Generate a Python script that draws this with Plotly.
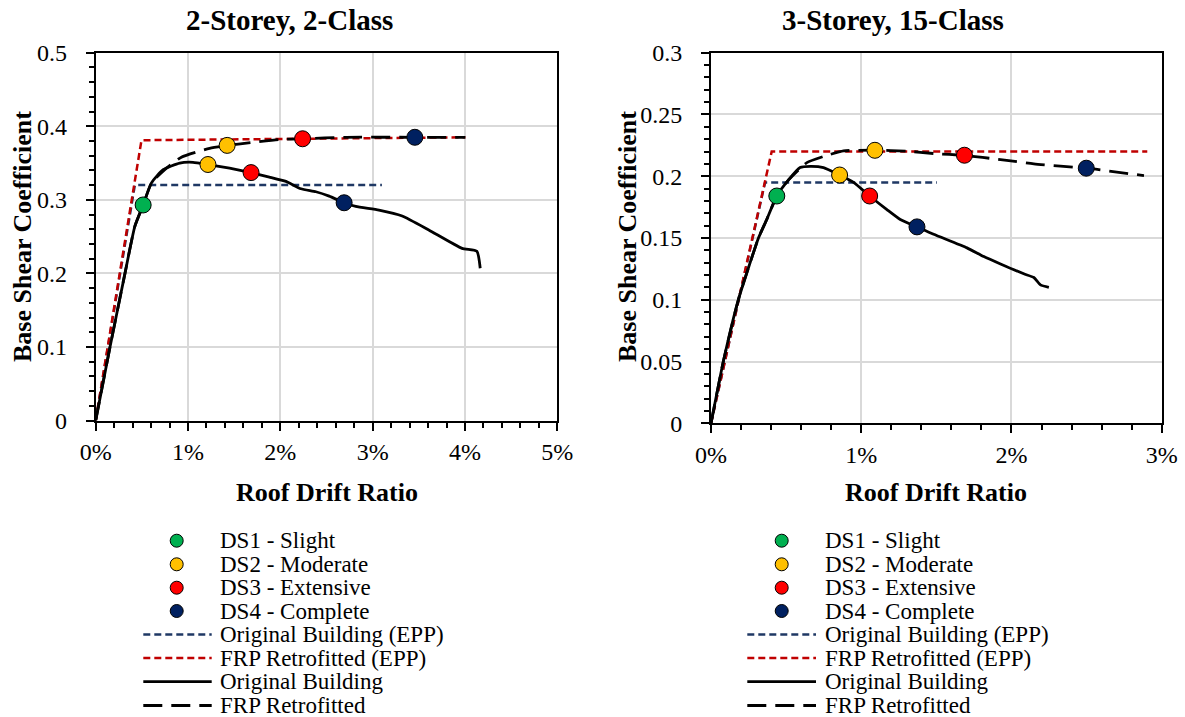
import plotly.graph_objects as go

W, H = 1185, 717
FONT = "Liberation Serif"

# ---------------- data: 2-Storey, 2-Class ----------------
L_orig_x = [0, 0.155, 0.317, 0.424, 0.514, 0.604, 0.730, 0.910, 1.054, 1.216, 1.450, 1.683, 1.881,
            2.061, 2.223, 2.385, 2.529, 2.691, 2.817, 3.068, 3.320, 3.608, 3.968, 4.129, 4.165]
L_orig_y = [0, 0.100, 0.200, 0.264, 0.293, 0.323, 0.341, 0.350, 0.351, 0.348, 0.343, 0.337, 0.331,
            0.325, 0.315, 0.311, 0.305, 0.296, 0.291, 0.286, 0.278, 0.259, 0.234, 0.230, 0.207]
L_frp_x = [0, 0.155, 0.317, 0.424, 0.514, 0.604, 0.748, 0.928, 1.234, 1.432, 1.701, 1.989, 2.241,
           2.709, 3.457, 4.004]
L_frp_y = [0, 0.100, 0.200, 0.264, 0.293, 0.323, 0.341, 0.358, 0.370, 0.374, 0.378, 0.382, 0.383,
           0.385, 0.385, 0.385]
L_epp_orig_x = [0, 0.424, 3.10]
L_epp_orig_y = [0, 0.320, 0.320]
L_epp_frp_x = [0, 0.496, 4.004]
L_epp_frp_y = [0, 0.381, 0.385]
L_ds_orig_x = [0.514, 1.216, 1.683, 2.691]
L_ds_orig_y = [0.293, 0.348, 0.337, 0.296]
L_ds_frp_x = [1.424, 2.241, 3.457]
L_ds_frp_y = [0.374, 0.383, 0.385]

# ---------------- data: 3-Storey, 15-Class ----------------
R_orig_x = [0, 0.082, 0.182, 0.316, 0.371, 0.438, 0.516, 0.593, 0.660, 0.749, 0.856, 0.949, 1.056,
            1.171, 1.260, 1.371, 1.482, 1.704, 1.816, 1.927, 2.082, 2.149, 2.193, 2.249]
R_orig_y = [0, 0.050, 0.100, 0.150, 0.165, 0.184, 0.197, 0.207, 0.208, 0.207, 0.201, 0.195, 0.184,
            0.173, 0.165, 0.159, 0.153, 0.142, 0.135, 0.129, 0.121, 0.118, 0.112, 0.110]
R_frp_x = [0, 0.082, 0.182, 0.316, 0.371, 0.438, 0.516, 0.638, 0.749, 0.882, 1.091, 1.304, 1.482,
           1.687, 1.927, 2.149, 2.498, 2.882]
R_frp_y = [0, 0.050, 0.100, 0.150, 0.165, 0.184, 0.197, 0.211, 0.216, 0.2205, 0.2211, 0.2203, 0.2184,
           0.2168, 0.2135, 0.210, 0.2065, 0.2005]
R_epp_orig_x = [0, 0.360, 1.504]
R_epp_orig_y = [0, 0.195, 0.195]
R_epp_frp_x = [0, 0.404, 2.904]
R_epp_frp_y = [0, 0.220, 0.220]
R_ds_orig_x = [0.438, 0.856, 1.056, 1.371]
R_ds_orig_y = [0.184, 0.201, 0.184, 0.159]
R_ds_frp_x = [1.091, 1.687, 2.498]
R_ds_frp_y = [0.221, 0.217, 0.2065]

titles = ["2-Storey, 2-Class", "3-Storey, 15-Class"]
ds_labels = ["DS1 - Slight", "DS2 - Moderate", "DS3 - Extensive", "DS4 - Complete"]
line_labels = ["Original Building (EPP)", "FRP Retrofitted (EPP)", "Original Building", "FRP Retrofitted"]

GREEN, YELLOW, RED, NAVY = "#00B050", "#FFC000", "#FF0000", "#002060"
EPP_BLUE, EPP_RED = "#1F3864", "#C00000"
DS_COLORS = [GREEN, YELLOW, RED, NAVY]
EPP_DASH = "7px,4px"
FRP_DASH = "19px,9px"

fig = go.Figure()


def add_panel(xa, ya, ox, oy, fx, fy, eox, eoy, efx, efy, dox, doy, dfx, dfy):
    fig.add_trace(go.Scatter(x=eox, y=eoy, xaxis=xa, yaxis=ya, mode="lines",
                             line=dict(color=EPP_BLUE, width=2.5, dash=EPP_DASH), showlegend=False))
    fig.add_trace(go.Scatter(x=efx, y=efy, xaxis=xa, yaxis=ya, mode="lines",
                             line=dict(color=EPP_RED, width=2.5, dash=EPP_DASH), showlegend=False))
    fig.add_trace(go.Scatter(x=fx, y=fy, xaxis=xa, yaxis=ya, mode="lines",
                             line=dict(color="black", width=2.8, dash=FRP_DASH, shape="spline", smoothing=0.5),
                             showlegend=False))
    fig.add_trace(go.Scatter(x=ox, y=oy, xaxis=xa, yaxis=ya, mode="lines",
                             line=dict(color="black", width=2.8, shape="spline", smoothing=0.5),
                             showlegend=False))
    fig.add_trace(go.Scatter(x=dox, y=doy, xaxis=xa, yaxis=ya, mode="markers",
                             marker=dict(size=16, color=DS_COLORS, line=dict(color="black", width=1)),
                             showlegend=False))
    fig.add_trace(go.Scatter(x=dfx, y=dfy, xaxis=xa, yaxis=ya, mode="markers",
                             marker=dict(size=16, color=DS_COLORS[1:], line=dict(color="black", width=1)),
                             showlegend=False))


add_panel("x", "y", L_orig_x, L_orig_y, L_frp_x, L_frp_y, L_epp_orig_x, L_epp_orig_y,
          L_epp_frp_x, L_epp_frp_y, L_ds_orig_x, L_ds_orig_y, L_ds_frp_x, L_ds_frp_y)
add_panel("x2", "y2", R_orig_x, R_orig_y, R_frp_x, R_frp_y, R_epp_orig_x, R_epp_orig_y,
          R_epp_frp_x, R_epp_frp_y, R_ds_orig_x, R_ds_orig_y, R_ds_frp_x, R_ds_frp_y)


def X(px):
    return px / W


def Y(py):
    return 1 - py / H


tickfont = dict(family=FONT, size=24, color="black")


def xaxis_cfg(dom, rng, minor_dt):
    return dict(domain=dom, range=rng, dtick=1, ticksuffix="%", showline=True, linecolor="black",
                linewidth=2, mirror=True, showgrid=True, gridcolor="#D9D9D9", gridwidth=1.5,
                zeroline=False, ticks="outside", ticklen=8, tickwidth=1.5, tickcolor="black",
                tickfont=tickfont, ticklabelstandoff=1, automargin=False,
                minor=dict(dtick=minor_dt, ticks="outside", ticklen=5, tickwidth=1.5,
                           tickcolor="black", showgrid=False))


def yaxis_cfg(dom, rng, dt, minor_dt, anchor):
    return dict(domain=dom, range=rng, dtick=dt, showline=True, linecolor="black", linewidth=2,
                mirror=True, showgrid=True, gridcolor="#D9D9D9", gridwidth=1.5, zeroline=False,
                ticks="outside", ticklen=8, tickwidth=1.5, tickcolor="black", tickfont=tickfont,
                ticklabelstandoff=14, anchor=anchor, automargin=False,
                minor=dict(dtick=minor_dt, ticks="outside", ticklen=5, tickwidth=1.5,
                           tickcolor="black", showgrid=False))


fig.update_layout(
    template="none",
    width=W, height=H, margin=dict(l=0, r=0, t=0, b=0, autoexpand=False),
    paper_bgcolor="white", plot_bgcolor="white", showlegend=False,
    font=dict(family=FONT, color="black"),
    xaxis=xaxis_cfg([X(95.7), X(557.3)], [0, 5], 0.2) | dict(anchor="y"),
    yaxis=yaxis_cfg([Y(420.5), Y(52.7)], [0, 0.5], 0.1, 0.02, "x"),
    xaxis2=xaxis_cfg([X(711), X(1161.7)], [0, 3], 0.2) | dict(anchor="y2"),
    yaxis2=yaxis_cfg([Y(423.3), Y(52.7)], [0, 0.3], 0.05, 0.01, "x2"),
)

ann = []
shapes = []
panels = [
    dict(cx=326.5, ycx=22, title_cx=289, mk=176.7, l0=143.3, l1=211.7, tx=218.3),
    dict(cx=936.3, ycx=627, title_cx=893, mk=781.7, l0=747.3, l1=816.0, tx=823.3),
]
row_y = [540.7, 564.3, 587.7, 611.0, 634.5, 658.0, 681.7, 705.5]

for i, p in enumerate(panels):
    ann.append(dict(text="<b>%s</b>" % titles[i], x=X(p["title_cx"]), y=Y(20), xref="paper", yref="paper",
                    showarrow=False, xanchor="center", yanchor="middle",
                    font=dict(family=FONT, size=29, color="black")))
    ann.append(dict(text="<b>Roof Drift Ratio</b>", x=X(p["cx"]), y=Y(492), xref="paper", yref="paper",
                    showarrow=False, xanchor="center", yanchor="middle",
                    font=dict(family=FONT, size=26, color="black")))
    ann.append(dict(text="<b>Base Shear Coefficient</b>", x=X(p["ycx"]), y=Y(237), xref="paper",
                    yref="paper", showarrow=False, xanchor="center", yanchor="middle", textangle=-90,
                    font=dict(family=FONT, size=26, color="black")))
    # legend: damage-state markers
    for k, lab in enumerate(ds_labels):
        yy = row_y[k]
        shapes.append(dict(type="circle", xref="paper", yref="paper", xsizemode="pixel", ysizemode="pixel",
                           xanchor=X(p["mk"]), yanchor=Y(yy), x0=-6.5, x1=6.5, y0=-6.5, y1=6.5,
                           fillcolor=DS_COLORS[k], line=dict(color="black", width=1)))
        ann.append(dict(text=lab, x=X(p["tx"]), y=Y(yy), xref="paper", yref="paper", showarrow=False,
                        xanchor="left", yanchor="middle", font=dict(family=FONT, size=23, color="black")))
    styles = [(EPP_BLUE, EPP_DASH, 2.5), (EPP_RED, EPP_DASH, 2.5), ("black", "solid", 2.8),
              ("black", FRP_DASH, 2.8)]
    for k, lab in enumerate(line_labels):
        yy = row_y[4 + k]
        c, d, w = styles[k]
        shapes.append(dict(type="line", xref="paper", yref="paper", x0=X(p["l0"]), x1=X(p["l1"]),
                           y0=Y(yy), y1=Y(yy), line=dict(color=c, width=w, dash=d)))
        ann.append(dict(text=lab, x=X(p["tx"]), y=Y(yy), xref="paper", yref="paper", showarrow=False,
                        xanchor="left", yanchor="middle", font=dict(family=FONT, size=23, color="black")))

fig.update_layout(annotations=ann, shapes=shapes)
fig.write_html("out.html")
